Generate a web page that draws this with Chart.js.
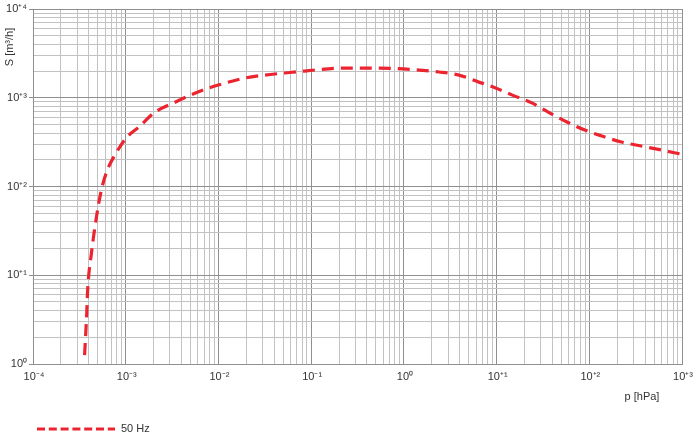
<!DOCTYPE html>
<html>
<head>
<meta charset="utf-8">
<script src="https://cdn.jsdelivr.net/npm/chart.js@4.4.0/dist/chart.umd.min.js"></script>
<style>
    html, body { margin: 0; padding: 0; background: #fff; }
    #contenedor { width: 698px; height: 438px; }
</style>
</head>
<body>
<div id="contenedor"><canvas id="chartBomba"></canvas></div>
<script>
// Curva de velocidad de bombeo
const presion = [3.6e-4, 3.8e-4, 3.87e-4, 4.27e-4, 4.83e-4, 5.46e-4, 6.33e-4, 7.89e-4, 1.01e-3, 1.39e-3,
    2.01e-3, 3.45e-3, 5.65e-3, 9.96e-3, 0.0193, 0.0316, 0.0518, 0.0846, 0.226, 0.548,
    0.99, 2.4, 3.93, 6.43, 9.76, 14.8, 24.3, 36, 57.4, 89.3, 136, 222, 363, 594, 971];
const caudal = [1.26, 3.76, 6.3, 17.8, 45, 91, 153, 239, 352, 468,
    673, 896, 1130, 1390, 1670, 1800, 1900, 2000, 2160, 2160,
    2110, 1950, 1800, 1500, 1290, 1070, 870, 690, 533, 433, 371, 317, 286, 258, 232];

// Etiquetas de las décadas
const etiquetasX = ['10⁻⁴', '10⁻³', '10⁻²', '10⁻¹', '10⁰', '10⁺¹', '10⁺²', '10⁺³'];
const etiquetasY = ['10⁰', '10⁺¹', '10⁺²', '10⁺³', '10⁺⁴'];
const decadaMinX = -4;
const decadaMinY = 0;

const nombreSerie = '50 Hz';
const tituloX = 'p [hPa]';
const tituloY = 'S [m³/h]';

const fuente = '"Liberation Sans", Arial, sans-serif';
const colorTexto = '#333333';
const colorMayor = '#8f8f8f';
const colorMenor = '#c2c2c2';
const guionLeyenda = [8, 3.8];

// Valores 1..9 x 10^n para la rejilla logarítmica
function valoresRejilla(eMin, eMax) {
    const valores = [];
    for (let e = eMin; e < eMax; e++) {
        for (let m = 1; m <= 9; m++) valores.push(m * Math.pow(10, e));
    }
    valores.push(Math.pow(10, eMax));
    return valores;
}

function esDecada(v) {
    const l = Math.log10(v);
    return Math.abs(l - Math.round(l)) < 1e-6;
}

// Títulos de ejes y leyenda
const textosExtra = {
    id: 'textosExtra',
    afterDraw(chart) {
        const ctx = chart.ctx;
        const ds = chart.data.datasets[0];
        ctx.save();
        ctx.fillStyle = colorTexto;
        ctx.font = '11px ' + fuente;
        ctx.textBaseline = 'middle';

        ctx.textAlign = 'center';
        ctx.fillText(tituloX, 642, 397);

        ctx.save();
        ctx.translate(10, 47);
        ctx.rotate(-Math.PI / 2);
        ctx.fillText(tituloY, 0, 0);
        ctx.restore();

        ctx.strokeStyle = ds.borderColor;
        ctx.lineWidth = ds.borderWidth;
        ctx.setLineDash(guionLeyenda);
        ctx.beginPath();
        ctx.moveTo(37, 429);
        ctx.lineTo(115, 429);
        ctx.stroke();
        ctx.setLineDash([]);

        ctx.textAlign = 'left';
        ctx.fillText(nombreSerie, 121, 429);
        ctx.restore();
    }
};

function crearGrafico() {
    const ctx = document.getElementById('chartBomba').getContext('2d');

    new Chart(ctx, {
        type: 'line',
        data: {
            datasets: [{
                label: nombreSerie,
                data: presion.map((p, i) => ({ x: p, y: caudal[i] })),
                borderColor: '#ec2430',
                borderWidth: 3.2,
                borderDash: [12, 7],
                pointRadius: 0,
                fill: false,
                cubicInterpolationMode: 'monotone'
            }]
        },
        options: {
            responsive: true,
            maintainAspectRatio: false,
            animation: false,
            layout: { padding: { left: 0, top: 9, right: 10, bottom: 0 } },
            plugins: {
                legend: { display: false },
                tooltip: { enabled: false }
            },
            scales: {
                x: {
                    type: 'logarithmic',
                    min: Math.pow(10, decadaMinX),
                    max: Math.pow(10, decadaMinX + etiquetasX.length - 1),
                    afterBuildTicks: s => {
                        s.ticks = valoresRejilla(decadaMinX, decadaMinX + etiquetasX.length - 1).map(v => ({ value: v }));
                    },
                    afterFit: s => { s.height = 74; },
                    ticks: {
                        autoSkip: false,
                        maxRotation: 0,
                        padding: 6,
                        labelOffset: 1,
                        color: colorTexto,
                        font: { family: fuente, size: 11 },
                        callback: v => esDecada(v) ? etiquetasX[Math.round(Math.log10(v)) - decadaMinX] : ''
                    },
                    grid: {
                        drawTicks: false,
                        color: c => (c.tick && esDecada(c.tick.value)) ? colorMayor : colorMenor
                    },
                    border: { color: colorMayor }
                },
                y: {
                    type: 'logarithmic',
                    min: Math.pow(10, decadaMinY),
                    max: Math.pow(10, decadaMinY + etiquetasY.length - 1),
                    afterBuildTicks: s => {
                        s.ticks = valoresRejilla(decadaMinY, decadaMinY + etiquetasY.length - 1).map(v => ({ value: v }));
                    },
                    afterFit: s => { s.width = 33; },
                    ticks: {
                        autoSkip: false,
                        padding: 2,
                        color: colorTexto,
                        font: { family: fuente, size: 11 },
                        callback: v => esDecada(v) ? etiquetasY[Math.round(Math.log10(v)) - decadaMinY] : ''
                    },
                    grid: {
                        tickLength: 4,
                        color: c => (c.tick && esDecada(c.tick.value)) ? colorMayor : colorMenor,
                        tickColor: c => (c.tick && esDecada(c.tick.value)) ? colorMayor : 'rgba(0,0,0,0)'
                    },
                    border: { color: colorMayor }
                }
            }
        },
        plugins: [textosExtra]
    });
}

crearGrafico();
</script>
</body>
</html>
